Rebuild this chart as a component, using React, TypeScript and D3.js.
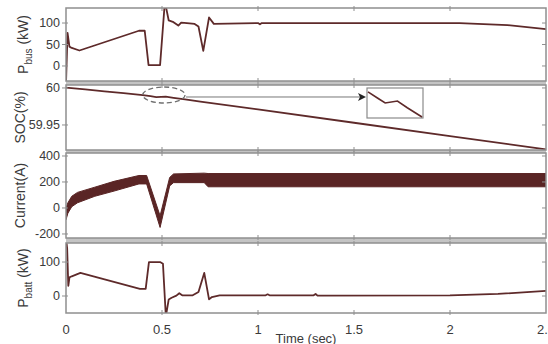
import * as d3 from 'd3';

const TIME_TICKS = [0, 0.5, 1, 1.5, 2, 2.5];
const TIME_LABELS = ['0', '0.5', '1', '1.5', '2', '2.5'];

// bus power (kW)
const PBUS_T = [0, 0.008, 0.018, 0.03, 0.07, 0.38, 0.41, 0.43, 0.49, 0.515, 0.535, 0.56, 0.585, 0.6, 0.63, 0.67, 0.69, 0.715, 0.745, 0.77, 1.0, 1.01, 1.02, 2.05, 2.3, 2.5];
const PBUS_V = [-40, 77, 45, 42, 36, 82, 82, 2, 2, 150, 106, 102, 94, 101, 100, 98, 92, 35, 113, 98, 100, 97, 100, 100, 95, 86];

// state of charge (%)
const SOC_T = [0, 0.1, 0.2, 0.3, 0.4, 0.44, 0.47, 0.52, 0.56, 0.62, 0.7, 1.0, 1.5, 2.0, 2.5];
const SOC_V = [60.0005, 59.998, 59.9955, 59.993, 59.99035, 59.98885, 59.98775, 59.9882, 59.98665, 59.9845, 59.9815, 59.971, 59.953, 59.935, 59.917];

// battery current envelope (A)
const CUR_T = [0, 0.01, 0.03, 0.06, 0.15, 0.25, 0.38, 0.42, 0.49, 0.54, 0.56, 0.72, 0.74, 2.5];
const CUR_HI = [0, 40, 90, 120, 160, 205, 250, 250, -60, 235, 262, 268, 265, 265];
const CUR_LO = [-90, -40, 10, 40, 90, 130, 185, 185, -150, 170, 195, 195, 163, 163];

// battery power (kW)
const PBATT_T = [0, 0.006, 0.012, 0.018, 0.03, 0.075, 0.385, 0.415, 0.432, 0.49, 0.505, 0.52, 0.535, 0.55, 0.575, 0.59, 0.605, 0.66, 0.69, 0.72, 0.745, 0.76, 0.8, 1.04, 1.05, 1.06, 1.29, 1.3, 1.31, 2.0, 2.25, 2.5];
const PBATT_V = [170, 140, 30, 55, 58, 68, 21, 21, 100, 100, 95, -60, -10, -5, 1, 8, 2, 2, 12, 68, -10, -3, 2, 2, 5, 2, 2, 6, 1, 2, 6, 15];

const PBUS_TICKS = [0, 50, 100];
const SOC_TICKS = [59.95, 60];
const SOC_TICK_LABELS = ['59.95', '60'];
const CUR_TICKS = [-200, 0, 200, 400];
const PBATT_TICKS = [0, 100];

const SOC_FOCUS = [0.4, 0.62];

const LINE = '#5e2a2a';
const FRAME = '#8f8f8f';
const TXT = '#3a3a3a';
const FONT = 'Liberation Sans, Arial, sans-serif';

const X0 = 66;
const X1 = 546;
const x = d3.scaleLinear().domain([0, 2.5]).range([X0, X1]);

type P = { t: number; v: number };
const zip = (t: number[], v: number[]): P[] => t.map((tt, i) => ({ t: tt, v: v[i] }));

interface PanelProps {
  id: string;
  top: number;
  bottom: number;
  domain: [number, number];
  ticks: number[];
  labels?: string[];
  title: React.ReactNode;
  titleX: number;
  children: (y: d3.ScaleLinear<number, number>) => React.ReactNode;
}

function Panel({ id, top, bottom, domain, ticks, labels, title, titleX, children }: PanelProps) {
  const y = d3.scaleLinear().domain(domain).range([bottom, top]);
  const mid = (top + bottom) / 2;
  return (
    <g>
      <defs>
        <clipPath id={id}>
          <rect x={X0} y={top} width={X1 - X0} height={bottom - top} />
        </clipPath>
      </defs>
      <rect x={X0} y={top} width={X1 - X0} height={bottom - top} fill="#fff" />
      <g clipPath={`url(#${id})`}>{children(y)}</g>
      <rect x={X0} y={top} width={X1 - X0} height={bottom - top} fill="none" stroke={FRAME} strokeWidth={1.5} />
      {TIME_TICKS.slice(1, -1).map((t) => (
        <g key={t} stroke={FRAME} strokeWidth={1}>
          <line x1={x(t)} x2={x(t)} y1={top - 2} y2={top + 3} />
          <line x1={x(t)} x2={x(t)} y1={bottom - 3} y2={bottom + 2} />
        </g>
      ))}
      {ticks.map((v, i) => (
        <g key={v}>
          <line x1={X0 - 4} x2={X0 + 2} y1={y(v)} y2={y(v)} stroke={FRAME} />
          <line x1={X1 - 4} x2={X1} y1={y(v)} y2={y(v)} stroke={FRAME} />
          <text x={X0 - 6} y={y(v)} dy="0.35em" textAnchor="end" fontSize={12.5} fill={TXT} fontFamily={FONT}>
            {labels ? labels[i] : String(v)}
          </text>
        </g>
      ))}
      <text transform={`translate(${titleX},${mid}) rotate(-90)`} textAnchor="middle" fontSize={14} fill={TXT} fontFamily={FONT}>
        {title}
      </text>
    </g>
  );
}

export default function App() {
  const pbus = zip(PBUS_T, PBUS_V);
  const soc = zip(SOC_T, SOC_V);
  const pbatt = zip(PBATT_T, PBATT_V);
  const cur = CUR_T.map((t, i) => ({ t, hi: CUR_HI[i], lo: CUR_LO[i] }));

  const lineFor = (y: d3.ScaleLinear<number, number>) =>
    d3.line<P>().x((d) => x(d.t)).y((d) => y(d.v));

  const gaps = [
    [81, 85],
    [150, 153],
    [238, 243],
  ];

  return (
    <svg width={548} height={344} style={{ position: 'absolute', left: 0, top: 0, background: '#fff' }}>
      {gaps.map(([a, b]) => (
        <rect key={a} x={X0} y={a} width={X1 - X0} height={b - a} fill="#c4c4c4" />
      ))}

      <Panel
        id="c1"
        top={8}
        bottom={81}
        domain={[-35, 135]}
        ticks={PBUS_TICKS}
        titleX={28}
        title={
          <>
            P<tspan dy={4} fontSize={10}>bus</tspan>
            <tspan dy={-4}> (kW)</tspan>
          </>
        }
      >
        {(y) => <path d={lineFor(y)(pbus) ?? ''} fill="none" stroke={LINE} strokeWidth={1.8} strokeLinejoin="round" />}
      </Panel>

      <Panel
        id="c2"
        top={85}
        bottom={150}
        domain={[59.9162, 60.004]}
        ticks={SOC_TICKS}
        labels={SOC_TICK_LABELS}
        titleX={25}
        title="SOC(%)"
      >
        {(y) => {
          const fx0 = x(SOC_FOCUS[0]);
          const fx1 = x(SOC_FOCUS[1]);
          const cy = y(59.9905);
          const ix = d3.scaleLinear().domain(SOC_FOCUS).range([368, 422]);
          const iy = d3.scaleLinear().domain([59.9845, 59.991]).range([117, 89]);
          const inset = soc.filter((d) => d.t >= SOC_FOCUS[0] && d.t <= SOC_FOCUS[1]);
          const insetLine = d3.line<P>().x((d) => ix(d.t)).y((d) => iy(d.v));
          return (
            <>
              <path d={lineFor(y)(soc) ?? ''} fill="none" stroke={LINE} strokeWidth={1.8} />
              <ellipse cx={(fx0 + fx1) / 2} cy={cy} rx={(fx1 - fx0) / 2} ry={8} fill="none" stroke="#6f6f6f" strokeWidth={1.3} strokeDasharray="5,3" />
              <line x1={fx1 + 1} x2={360} y1={cy + 2} y2={cy + 2} stroke="#777" strokeWidth={1} />
              <path d={`M358,${cy - 2} L366,${cy + 2} L358,${cy + 6} L360,${cy + 2} Z`} fill="#222" />
              <rect x={367} y={88} width={56} height={30} fill="#fff" stroke="#8a8a8a" strokeWidth={1.2} />
              <path d={insetLine(inset) ?? ''} fill="none" stroke={LINE} strokeWidth={1.6} />
            </>
          );
        }}
      </Panel>

      <Panel
        id="c3"
        top={153}
        bottom={238}
        domain={[-231, 423]}
        ticks={CUR_TICKS}
        titleX={25}
        title="Current(A)"
      >
        {(y) => {
          const area = d3
            .area<{ t: number; hi: number; lo: number }>()
            .x((d) => x(d.t))
            .y0((d) => y(d.lo))
            .y1((d) => y(d.hi));
          return <path d={area(cur) ?? ''} fill="#5a2525" stroke="#5a2525" strokeWidth={1} />;
        }}
      </Panel>

      <Panel
        id="c4"
        top={243}
        bottom={313}
        domain={[-50, 156]}
        ticks={PBATT_TICKS}
        titleX={28}
        title={
          <>
            P<tspan dy={4} fontSize={10}>batt</tspan>
            <tspan dy={-4}> (kW)</tspan>
          </>
        }
      >
        {(y) => <path d={lineFor(y)(pbatt) ?? ''} fill="none" stroke={LINE} strokeWidth={1.8} strokeLinejoin="round" />}
      </Panel>

      {TIME_TICKS.map((t, i) => (
        <text key={t} x={x(t)} y={334} textAnchor="middle" fontSize={13} fill={TXT} fontFamily={FONT}>
          {TIME_LABELS[i]}
        </text>
      ))}
      <text x={306} y={343} textAnchor="middle" fontSize={13} fill={TXT} fontFamily={FONT}>
        Time (sec)
      </text>
    </svg>
  );
}
